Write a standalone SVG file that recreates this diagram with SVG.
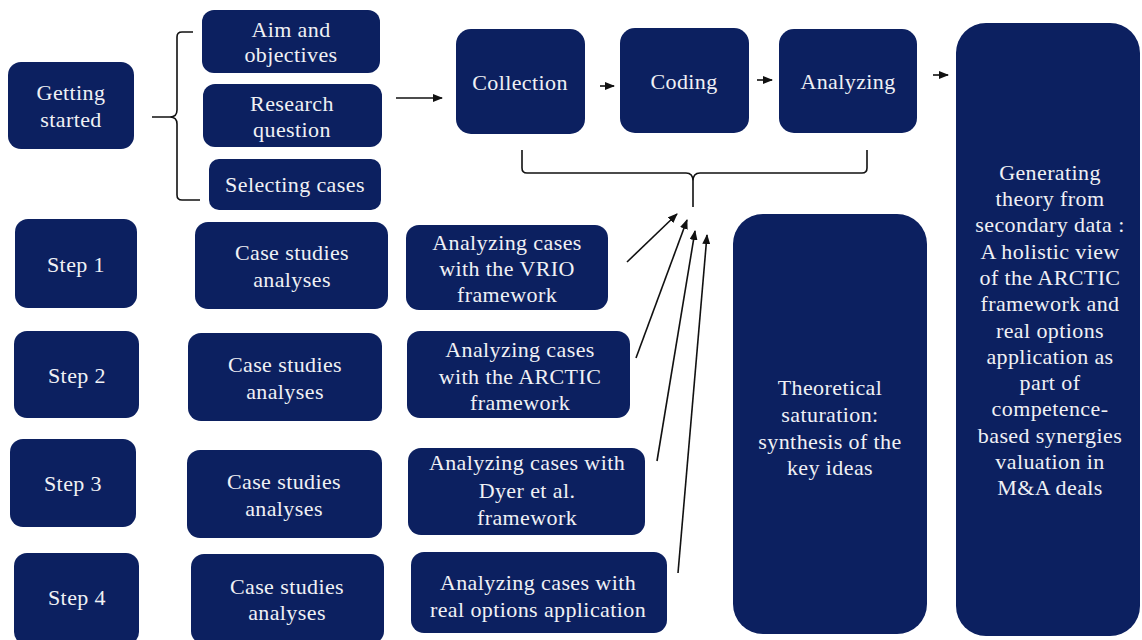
<svg xmlns="http://www.w3.org/2000/svg" width="1142" height="640" viewBox="0 0 1142 640">
<style>
.n{fill:#0c2060}
.t{font-family:"Liberation Serif","Times New Roman",serif;font-size:22px;fill:#f0f1f5;text-anchor:middle;letter-spacing:0.4px}
.c{fill:none;stroke:#111;stroke-width:1.6}
.a{fill:none;stroke:#111;stroke-width:1.6;marker-end:url(#ah)}
</style>
<defs>
<marker id="ah" markerUnits="userSpaceOnUse" markerWidth="10" markerHeight="8" refX="9" refY="4" orient="auto">
<path d="M0,0 L10,4 L0,8 z" fill="#111"/>
</marker>
</defs>
<rect width="1142" height="640" fill="#ffffff"/>

<g id="getting-started"><rect class="n" x="8" y="62" width="126" height="87" rx="13"/><text class="t" x="71" y="100">Getting</text><text class="t" x="71" y="127">started</text></g>
<g id="aim"><rect class="n" x="202" y="10" width="178" height="63" rx="12"/><text class="t" x="291" y="37">Aim and</text><text class="t" x="291" y="62">objectives</text></g>
<g id="research"><rect class="n" x="203" y="84" width="179" height="63" rx="12"/><text class="t" x="292" y="111">Research</text><text class="t" x="292" y="137">question</text></g>
<g id="selecting"><rect class="n" x="209" y="159" width="172" height="51" rx="10"/><text class="t" x="295" y="192">Selecting cases</text></g>

<g id="collection"><rect class="n" x="456" y="29" width="129" height="105" rx="15"/><text class="t" x="520" y="90">Collection</text></g>
<g id="coding"><rect class="n" x="620" y="28" width="129" height="105" rx="15"/><text class="t" x="684" y="89">Coding</text></g>
<g id="analyzing"><rect class="n" x="779" y="29" width="138" height="104" rx="15"/><text class="t" x="848" y="89">Analyzing</text></g>

<g id="generating"><rect class="n" x="956" y="23" width="184" height="613" rx="30"/>
<text class="t" x="1050" y="180">Generating</text>
<text class="t" x="1050" y="206">theory from</text>
<text class="t" x="1050" y="232">secondary data :</text>
<text class="t" x="1050" y="259">A holistic view</text>
<text class="t" x="1050" y="285">of the ARCTIC</text>
<text class="t" x="1050" y="311">framework and</text>
<text class="t" x="1050" y="338">real options</text>
<text class="t" x="1050" y="364">application as</text>
<text class="t" x="1050" y="390">part of</text>
<text class="t" x="1050" y="416">competence-</text>
<text class="t" x="1050" y="443">based synergies</text>
<text class="t" x="1050" y="469">valuation in</text>
<text class="t" x="1050" y="495">M&amp;A deals</text>
</g>

<g id="theoretical"><rect class="n" x="733" y="214" width="194" height="420" rx="30"/>
<text class="t" x="830" y="395">Theoretical</text>
<text class="t" x="830" y="422">saturation:</text>
<text class="t" x="830" y="449">synthesis of the</text>
<text class="t" x="830" y="475">key ideas</text>
</g>

<g id="step1"><rect class="n" x="15" y="219" width="122" height="89" rx="13"/><text class="t" x="76" y="272">Step 1</text></g>
<g id="case1"><rect class="n" x="195" y="222" width="193" height="87" rx="13"/><text class="t" x="292" y="260">Case studies</text><text class="t" x="292" y="287">analyses</text></g>
<g id="vrio"><rect class="n" x="406" y="225" width="202" height="85" rx="13"/><text class="t" x="507" y="250">Analyzing cases</text><text class="t" x="507" y="276">with the VRIO</text><text class="t" x="507" y="302">framework</text></g>

<g id="step2"><rect class="n" x="14" y="331" width="125" height="87" rx="13"/><text class="t" x="77" y="383">Step 2</text></g>
<g id="case2"><rect class="n" x="188" y="333" width="194" height="88" rx="13"/><text class="t" x="285" y="372">Case studies</text><text class="t" x="285" y="399">analyses</text></g>
<g id="arctic"><rect class="n" x="407" y="331" width="223" height="87" rx="13"/><text class="t" x="520" y="357">Analyzing cases</text><text class="t" x="520" y="384">with the ARCTIC</text><text class="t" x="520" y="410">framework</text></g>

<g id="step3"><rect class="n" x="10" y="439" width="126" height="88" rx="13"/><text class="t" x="73" y="491">Step 3</text></g>
<g id="case3"><rect class="n" x="187" y="450" width="195" height="88" rx="13"/><text class="t" x="284" y="489">Case studies</text><text class="t" x="284" y="516">analyses</text></g>
<g id="dyer"><rect class="n" x="408" y="448" width="237" height="87" rx="13"/><text class="t" x="527" y="470">Analyzing cases with</text><text class="t" x="527" y="498">Dyer et al.</text><text class="t" x="527" y="525">framework</text></g>

<g id="step4"><rect class="n" x="14" y="553" width="125" height="92" rx="13"/><text class="t" x="77" y="605">Step 4</text></g>
<g id="case4"><rect class="n" x="191" y="554" width="193" height="90" rx="13"/><text class="t" x="287" y="594">Case studies</text><text class="t" x="287" y="620">analyses</text></g>
<g id="realoptions"><rect class="n" x="411" y="552" width="256" height="81" rx="13"/><text class="t" x="538" y="590">Analyzing cases with</text><text class="t" x="538" y="617">real options application</text></g>

<g id="connectors">
<path class="c" d="M152,117 H170 M193,32 H182 Q177,32 177,37 V110 Q177,117 170,117 Q177,117 177,124 V195 Q177,200 182,200 H200"/>
<path class="c" d="M522,150 V168 Q522,173 527,173 H686 Q693,173 693,181 V207 M693,181 Q693,173 700,173 H862 Q867,173 867,168 V150"/>
<line class="a" x1="396" y1="98" x2="442" y2="98"/>
<line class="a" x1="600" y1="86" x2="614" y2="86"/>
<line class="a" x1="757" y1="80" x2="772" y2="80"/>
<line class="a" x1="933" y1="75" x2="948" y2="75"/>
<line class="a" x1="627" y1="262" x2="677" y2="214"/>
<line class="a" x1="636" y1="358" x2="687" y2="220"/>
<line class="a" x1="657" y1="461" x2="695" y2="231"/>
<line class="a" x1="678" y1="573" x2="707" y2="235"/>
</g>
</svg>
